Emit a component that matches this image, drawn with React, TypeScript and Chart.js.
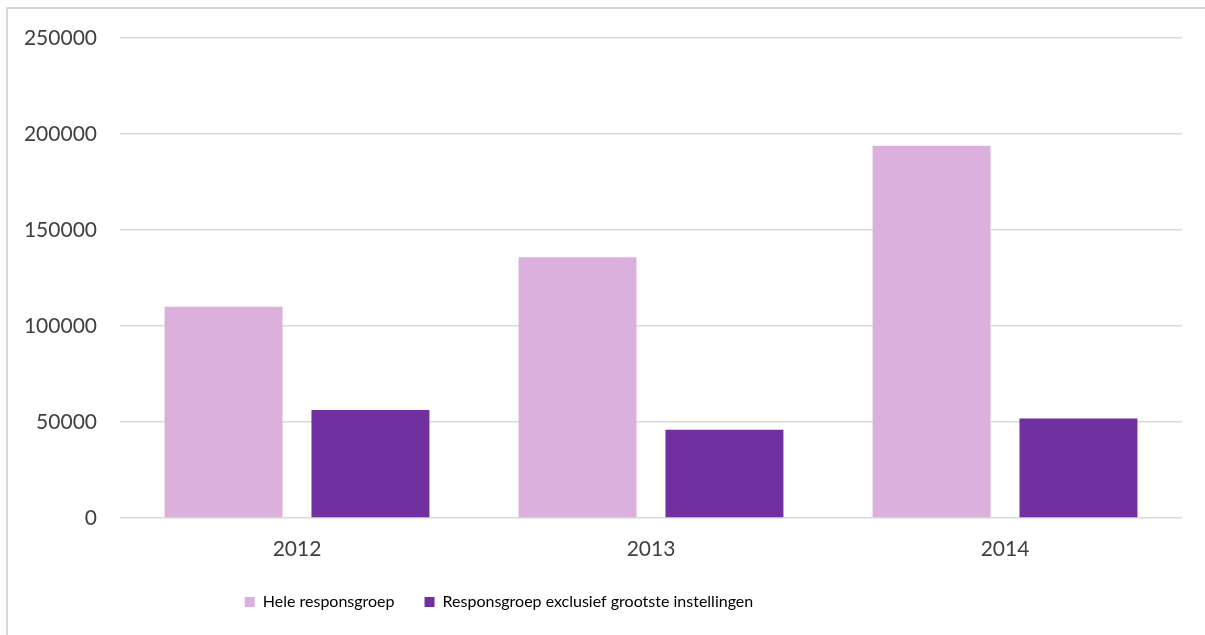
import React, { useEffect, useRef } from "react";
import { Chart, registerables } from "chart.js";

Chart.register(...registerables);

const categories = ["2012", "2013", "2014"];
const seriesNames = ["Hele responsgroep", "Responsgroep exclusief grootste instellingen"];
const heleValues = [110000, 135800, 193900];
const exclValues = [56300, 45900, 51800];
const yTicks = [0, 50000, 100000, 150000, 200000, 250000];

const FONT = "Lato";
const LEGEND_SHIFT = -96;

const legendShift = {
  id: "legendShift",
  afterLayout(chart: any) {
    const l = chart.legend;
    if (l) {
      l.left += LEGEND_SHIFT;
      l.right += LEGEND_SHIFT;
    }
  },
};

export default function App() {
  const ref = useRef<HTMLCanvasElement | null>(null);

  useEffect(() => {
    if (!ref.current) return;
    const chart = new Chart(ref.current, {
      type: "bar",
      data: {
        labels: categories,
        datasets: [
          {
            label: seriesNames[0],
            data: heleValues,
            backgroundColor: "#DCB0DD",
            borderWidth: 0,
            categoryPercentage: 0.83,
            barPercentage: 0.803,
          },
          {
            label: seriesNames[1],
            data: exclValues,
            backgroundColor: "#7030A0",
            borderWidth: 0,
            categoryPercentage: 0.83,
            barPercentage: 0.803,
          },
        ],
      },
      options: {
        animation: false,
        responsive: true,
        maintainAspectRatio: false,
        layout: { padding: { top: 29, right: 23, left: 0, bottom: 15 } },
        plugins: {
          tooltip: { enabled: false },
          legend: {
            position: "bottom",
            labels: {
              boxWidth: 10,
              boxHeight: 10,
              padding: 30,
              color: "#000",
              font: { family: FONT, size: 16 },
            },
          },
        },
        scales: {
          x: {
            grid: { display: false, drawTicks: false },
            border: { display: false },
            afterFit: (scale: any) => {
              scale.height = 46;
            },
            ticks: {
              color: "#404040",
              font: { family: FONT, size: 21 },
              padding: 19,
            },
          },
          y: {
            min: 0,
            max: 250000,
            afterFit: (scale: any) => {
              scale.width = 112;
              scale.paddingTop = 0;
              scale.paddingBottom = 0;
            },
            afterBuildTicks: (scale: any) => {
              scale.ticks = yTicks.map((v) => ({ value: v }));
            },
            grid: { color: "#d9d9d9", lineWidth: 1.5, drawTicks: false },
            border: { display: false },
            ticks: {
              color: "#404040",
              font: { family: FONT, size: 21 },
              padding: 23,
              callback: (v: any) => String(v),
            },
          },
        },
      },
      plugins: [legendShift],
    });
    return () => chart.destroy();
  }, []);

  return (
    <div
      style={{
        position: "absolute",
        left: 6,
        top: 7,
        width: 1199,
        height: 628,
        borderLeft: "2px solid #d9d9d9",
        borderTop: "2px solid #d9d9d9",
        boxSizing: "border-box",
        background: "#fff",
      }}
    >
      <div style={{ position: "relative", width: 1197, height: 626 }}>
        <canvas ref={ref} />
      </div>
    </div>
  );
}
